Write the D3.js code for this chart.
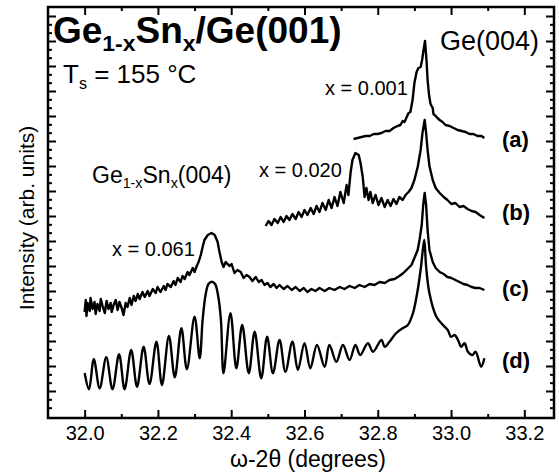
<!DOCTYPE html>
<html>
<head>
<meta charset="utf-8">
<script src="https://cdn.jsdelivr.net/npm/d3@7/dist/d3.min.js"></script>
<style>
body { margin: 0; background: #fff; }
svg { font-family: "Liberation Sans", Arial, sans-serif; }
</style>
</head>
<body>
<div class="canvas"></div>
<script>
const margin = {top: 7, right: 5, bottom: 56, left: 48};
const graphWidth = 559 - margin.left - margin.right;
const graphHeight = 474 - margin.top - margin.bottom;

// x ticks (degrees)
const xMajor = [32.0, 32.2, 32.4, 32.6, 32.8, 33.0, 33.2];
const xMinor = [32.1, 32.3, 32.5, 32.7, 32.9, 33.1];
// y ticks (arb. units, curves are offset)
const yMajor = d3.range(1, 17);
const yMinor = d3.range(1, 17).flatMap(v => [v - 1/3, v - 2/3]).filter(v => v > 0);

const curveNames = ["(a)", "(b)", "(c)", "(d)"];

// (a) x = 0.001
const curveA = [[32.734,11.08],[32.745,11.12],[32.756,11.16],[32.767,11.20],[32.778,11.20],[32.789,11.28],[32.799,11.28],[32.810,11.32],[32.821,11.40],[32.832,11.40],[32.843,11.52],[32.854,11.60],[32.862,11.64],[32.868,11.80],[32.873,11.76],[32.879,11.96],[32.884,12.12],[32.889,12.16],[32.895,12.64],[32.900,13.32],[32.906,13.76],[32.911,13.92],[32.917,13.96],[32.921,14.24],[32.925,14.64],[32.929,15.00],[32.933,14.24],[32.936,13.44],[32.940,12.84],[32.944,12.48],[32.950,12.32],[32.952,12.08],[32.958,12.00],[32.963,11.92],[32.969,11.84],[32.977,11.76],[32.985,11.64],[32.996,11.60],[33.007,11.52],[33.018,11.44],[33.029,11.40],[33.040,11.36],[33.050,11.28],[33.061,11.28],[33.072,11.20],[33.083,11.20],[33.091,11.12]];

// (b) x = 0.020
const curveB = [[32.494,7.60],[32.502,7.80],[32.510,7.64],[32.518,7.88],[32.527,7.72],[32.535,7.96],[32.543,7.76],[32.551,8.00],[32.559,7.84],[32.567,8.08],[32.576,7.88],[32.584,8.16],[32.592,7.96],[32.600,8.24],[32.608,8.04],[32.617,8.32],[32.625,8.08],[32.633,8.40],[32.641,8.16],[32.649,8.52],[32.658,8.24],[32.666,8.64],[32.674,8.32],[32.682,8.76],[32.690,8.40],[32.698,8.96],[32.707,8.52],[32.715,9.24],[32.720,8.84],[32.726,9.76],[32.731,10.24],[32.739,10.52],[32.748,10.44],[32.753,10.12],[32.759,9.56],[32.764,8.76],[32.769,9.12],[32.775,8.64],[32.780,8.96],[32.786,8.52],[32.794,8.84],[32.802,8.44],[32.810,8.72],[32.819,8.36],[32.827,8.64],[32.835,8.40],[32.843,8.68],[32.851,8.48],[32.859,8.76],[32.868,8.64],[32.876,8.84],[32.884,8.96],[32.892,9.12],[32.900,9.44],[32.909,9.96],[32.917,10.64],[32.922,11.32],[32.928,11.84],[32.932,11.32],[32.936,10.64],[32.941,10.00],[32.950,9.44],[32.958,9.12],[32.969,8.92],[32.980,8.76],[32.990,8.64],[33.001,8.48],[33.012,8.52],[33.023,8.36],[33.034,8.40],[33.045,8.28],[33.056,8.20],[33.067,8.16],[33.078,8.04],[33.091,7.92]];

// (c) x = 0.061, measured
const curveC = [[32.000,4.16],[32.003,4.64],[32.005,4.00],[32.008,4.52],[32.014,4.20],[32.016,4.72],[32.022,4.28],[32.027,4.56],[32.030,4.08],[32.035,4.48],[32.041,4.20],[32.044,4.68],[32.049,4.40],[32.055,4.12],[32.060,4.60],[32.065,4.28],[32.071,4.52],[32.074,4.16],[32.079,4.44],[32.085,4.64],[32.090,4.24],[32.095,4.56],[32.101,4.32],[32.106,4.04],[32.112,4.52],[32.117,4.36],[32.123,4.72],[32.128,4.44],[32.134,4.80],[32.139,4.60],[32.145,4.88],[32.150,4.68],[32.158,4.96],[32.164,4.76],[32.172,5.00],[32.177,4.80],[32.186,5.08],[32.194,4.92],[32.199,5.16],[32.207,4.96],[32.216,5.20],[32.221,5.04],[32.226,5.28],[32.235,5.16],[32.243,5.40],[32.248,5.24],[32.254,5.52],[32.262,5.36],[32.267,5.60],[32.273,5.48],[32.281,5.76],[32.286,5.64],[32.295,5.92],[32.300,5.76],[32.306,6.00],[32.311,6.16],[32.317,6.44],[32.322,6.76],[32.327,7.04],[32.336,7.24],[32.346,7.32],[32.355,7.24],[32.363,6.96],[32.368,6.56],[32.374,6.16],[32.379,5.96],[32.385,6.16],[32.390,6.08],[32.396,6.00],[32.401,6.08],[32.409,5.72],[32.417,5.84],[32.426,5.76],[32.434,5.52],[32.442,5.64],[32.450,5.56],[32.458,5.40],[32.467,5.56],[32.475,5.36],[32.483,5.44],[32.491,5.24],[32.499,5.32],[32.507,5.16],[32.516,5.28],[32.524,5.12],[32.532,5.24],[32.543,5.08],[32.554,5.20],[32.565,5.04],[32.576,5.16],[32.587,5.00],[32.598,5.12],[32.608,4.96],[32.619,5.08],[32.630,5.00],[32.641,5.12],[32.655,5.00],[32.668,5.12],[32.682,5.04],[32.696,5.16],[32.709,5.08],[32.723,5.20],[32.737,5.12],[32.750,5.24],[32.764,5.16],[32.778,5.28],[32.791,5.24],[32.805,5.36],[32.819,5.32],[32.832,5.44],[32.846,5.48],[32.859,5.60],[32.870,5.72],[32.881,5.88],[32.892,6.04],[32.900,6.32],[32.909,6.64],[32.914,7.04],[32.920,7.64],[32.924,8.44],[32.928,8.92],[32.932,8.44],[32.936,7.44],[32.941,6.64],[32.950,6.16],[32.958,5.92],[32.969,5.76],[32.980,5.68],[32.990,5.56],[33.001,5.52],[33.012,5.44],[33.023,5.36],[33.034,5.28],[33.045,5.24],[33.056,5.16],[33.067,5.12],[33.078,5.12],[33.091,5.04]];

// (d) x = 0.061, simulated
const curveD = [[32.000,1.72],[32.012,1.07],[32.025,2.27],[32.041,1.11],[32.059,2.35],[32.076,1.07],[32.094,2.47],[32.109,1.07],[32.127,2.64],[32.143,1.17],[32.161,2.77],[32.177,1.28],[32.196,2.97],[32.211,1.24],[32.230,3.20],[32.246,1.55],[32.264,3.51],[32.279,1.87],[32.300,3.97],[32.314,2.31],[32.322,3.84],[32.330,4.84],[32.338,5.28],[32.347,5.37],[32.356,5.28],[32.364,4.84],[32.372,3.84],[32.379,1.71],[32.398,4.11],[32.414,1.91],[32.430,3.64],[32.448,1.71],[32.464,3.37],[32.482,1.51],[32.498,3.17],[32.514,1.71],[32.532,3.04],[32.548,1.77],[32.567,2.97],[32.582,1.84],[32.600,2.91],[32.616,1.91],[32.634,2.84],[32.655,1.97],[32.668,2.84],[32.687,2.17],[32.705,2.84],[32.723,2.24],[32.739,2.84],[32.752,2.44],[32.773,2.91],[32.787,2.57],[32.810,3.04],[32.819,2.77],[32.832,2.97],[32.850,3.31],[32.868,3.51],[32.882,3.64],[32.896,4.11],[32.909,5.04],[32.918,5.97],[32.923,6.64],[32.927,7.04],[32.932,5.97],[32.941,4.91],[32.960,3.97],[32.978,3.64],[32.991,3.44],[33.000,3.17],[33.010,3.24],[33.019,3.04],[33.028,2.77],[33.037,2.91],[33.046,2.57],[33.058,2.44],[33.067,2.57],[33.082,1.97],[33.091,2.31]];

const svg = d3.select('.canvas')
    .append('svg')
    .attr('width', 559)
    .attr('height', 474);

const graph = svg.append('g')
    .attr('transform', `translate(${margin.left}, ${margin.top})`);

const x = d3.scaleLinear().domain([31.9, 33.281]).range([0, graphWidth]);
const y = d3.scaleLinear().domain([-0.08, 16.36]).range([graphHeight, 0]);

// ticks, all pointing inward
function tickGroup(axis, transform) {
    const g = graph.append('g').attr('transform', transform).call(axis);
    g.select('.domain').remove();
    g.selectAll('.tick line').attr('stroke', '#000').attr('stroke-width', 2);
    return g;
}

const xAxisGroup = tickGroup(d3.axisBottom(x).tickValues(xMajor).tickSize(-8).tickPadding(8)
    .tickFormat(d3.format('.1f')), `translate(0, ${graphHeight})`);
xAxisGroup.selectAll('text').attr('font-size', 20).attr('fill', '#000')
    .attr('font-family', '"Liberation Sans", Arial, sans-serif');
tickGroup(d3.axisBottom(x).tickValues(xMinor).tickSize(-4).tickFormat(''), `translate(0, ${graphHeight})`);
tickGroup(d3.axisTop(x).tickValues(xMajor).tickSize(-8).tickFormat(''), 'translate(0,0)');
tickGroup(d3.axisTop(x).tickValues(xMinor).tickSize(-4).tickFormat(''), 'translate(0,0)');
tickGroup(d3.axisLeft(y).tickValues(yMajor).tickSize(-8).tickFormat(''), 'translate(0,0)');
tickGroup(d3.axisLeft(y).tickValues(yMinor).tickSize(-4).tickFormat(''), 'translate(0,0)');
tickGroup(d3.axisRight(y).tickValues(yMajor).tickSize(-8).tickFormat(''), `translate(${graphWidth},0)`);
tickGroup(d3.axisRight(y).tickValues(yMinor).tickSize(-4).tickFormat(''), `translate(${graphWidth},0)`);

graph.append('rect')
    .attr('width', graphWidth).attr('height', graphHeight)
    .attr('fill', 'none').attr('stroke', '#000').attr('stroke-width', 2.5);

const lineRough = d3.line().x(d => x(d[0])).y(d => y(d[1]));
const lineSmooth = d3.line().x(d => x(d[0])).y(d => y(d[1])).curve(d3.curveCatmullRom.alpha(0.5));

[curveA, curveB, curveC].forEach(c => {
    graph.append('path').datum(c).attr('d', lineRough)
        .attr('fill', 'none').attr('stroke', '#000').attr('stroke-width', 2.4)
        .attr('stroke-linejoin', 'round');
});
graph.append('path').datum(curveD).attr('d', lineSmooth)
    .attr('fill', 'none').attr('stroke', '#000').attr('stroke-width', 2.4);

// curve labels on the right
const labelY = [147, 220, 296, 368];
svg.selectAll('.cname').data(curveNames).enter().append('text')
    .attr('x', 502).attr('y', (d, i) => labelY[i])
    .attr('font-size', 22).attr('font-weight', 'bold').text(d => d);

// annotations
function note(tx, ty, size, parts, weight) {
    const t = svg.append('text').attr('x', tx).attr('y', ty)
        .attr('font-size', size).attr('font-weight', weight || 'normal');
    parts.forEach(p => {
        const s = t.append('tspan').text(p[0]);
        if (p[1] === 'sub') s.attr('font-size', size * 0.62).attr('dy', size * 0.22);
        if (p[1] === 'up') s.attr('dy', -size * 0.22);
    });
}
note(53, 43, 37, [['Ge'], ['1-x', 'sub'], ['Sn', 'up'], ['x', 'sub'], ['/Ge(001)', 'up']], 'bold');
note(63, 83, 26, [['T'], ['s', 'sub'], [' = 155 °C', 'up']]);
note(440, 50, 27, [['Ge(004)']]);
note(92, 183, 23, [['Ge'], ['1-x', 'sub'], ['Sn', 'up'], ['x', 'sub'], ['(004)', 'up']]);
note(325, 95, 20, [['x = 0.001']]);
note(259, 177, 20, [['x = 0.020']]);
note(112, 256, 20, [['x = 0.061']]);

// axis titles
svg.append('text').attr('x', 308).attr('y', 467).attr('text-anchor', 'middle')
    .attr('font-size', 23).text('ω-2θ (degrees)');
svg.append('text').attr('transform', 'translate(34, 218) rotate(-90)')
    .attr('text-anchor', 'middle').attr('font-size', 21).text('Intensity (arb. units)');
</script>
</body>
</html>
